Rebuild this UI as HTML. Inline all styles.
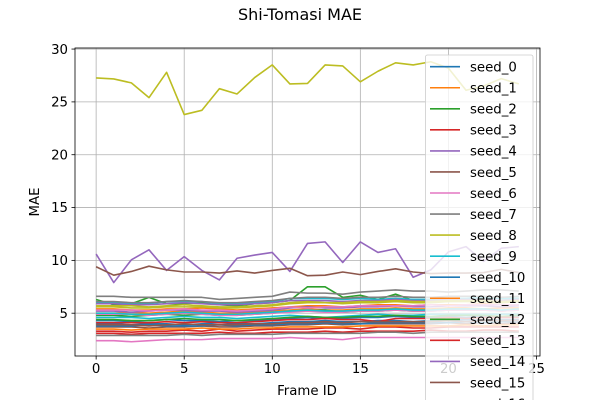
<!DOCTYPE html>
<html><head><meta charset="utf-8">
<style>
html,body{margin:0;padding:0;background:#fff;}
svg{display:block;font-family:"DejaVu Sans","Liberation Sans",sans-serif;}
</style></head>
<body>
<svg id="chart" width="600" height="400" viewBox="0 0 600 400">
<text x="300" y="20" text-anchor="middle" font-size="16">Shi-Tomasi MAE</text>
<text x="307" y="395" text-anchor="middle" font-size="13.3">Frame ID</text>
<text transform="translate(39,202) rotate(-90)" text-anchor="middle" font-size="13.3">MAE</text>
<g id="grid"></g><g id="series"></g><g id="axes"></g><g id="legend"></g>
</svg>
<script>
const frames = [0,1,2,3,4,5,6,7,8,9,10,11,12,13,14,15,16,17,18,19,20,21,22,23,24];
const xTicks = [0,5,10,15,20,25];
const yTicks = [5,10,15,20,25,30];
const seedNames = [];
const s0 = [4.3,4.3,4.2,4.3,4.4,4.3,4.3,4.2,4.3,4.3,4.4,4.5,4.6,4.5,4.5,4.6,4.6,4.7,4.6,4.6,4.7,4.6,4.7,4.7,4.7];
const s1 = [5.4,5.4,5.3,5.3,5.4,5.4,5.5,5.4,5.3,5.4,5.5,5.6,5.7,5.7,5.6,5.7,5.8,5.8,5.7,5.8,5.8,5.8,5.9,5.8,5.8];
const s2 = [6.3,5.8,5.9,6.5,5.9,5.9,6.0,5.8,5.7,5.9,6.0,6.2,7.5,7.5,6.5,6.7,6.3,6.8,6.2,6.3,6.4,6.3,6.5,6.4,6.4];
const s3 = [3.1,3.1,3.0,3.1,3.1,3.1,3.1,3.2,3.1,3.1,3.2,3.2,3.2,3.3,3.2,3.3,3.3,3.3,3.3,3.4,3.3,3.3,3.4,3.4,3.3];
const s4 = [10.6,7.9,10.05,11.0,9.05,10.35,9.05,8.15,10.2,10.5,10.75,8.95,11.6,11.75,9.8,11.75,10.75,11.1,8.4,9.1,10.8,11.3,9.9,11.15,11.3];
const s5 = [9.4,8.6,8.95,9.45,9.1,8.9,8.9,8.8,9.0,8.8,9.05,9.25,8.55,8.6,8.9,8.65,8.95,9.2,8.9,8.75,8.8,8.8,8.85,9.15,8.85];
const s6 = [2.4,2.4,2.3,2.4,2.5,2.5,2.5,2.6,2.6,2.6,2.6,2.7,2.6,2.6,2.5,2.7,2.7,2.7,2.7,2.7,2.7,2.7,2.7,2.7,2.7];
const s7 = [6.6,6.6,6.5,6.5,6.5,6.5,6.5,6.3,6.4,6.5,6.6,7.0,6.9,6.9,6.8,7.0,7.1,7.2,7.1,7.1,7.0,7.1,7.2,7.2,7.1];
const s8 = [27.27,27.17,26.8,25.4,27.8,23.8,24.2,26.25,25.75,27.3,28.5,26.7,26.75,28.5,28.4,26.9,27.9,28.7,28.5,28.8,28.2,26.1,26.5,27.2,26.7];
const s9 = [6.0,6.0,5.9,5.9,6.1,6.1,6.1,5.9,5.9,6.0,6.1,6.4,6.4,6.4,6.3,6.4,6.3,6.4,6.3,6.3,6.4,6.4,6.5,6.4,6.4];
const s10 = [4.0,4.0,3.9,4.0,4.0,3.9,4.0,4.1,4.0,4.0,4.1,4.2,4.2,4.3,4.2,4.2,4.3,4.3,4.2,4.3,4.3,4.4,4.3,4.4,4.4];
const s11 = [5.0,5.0,5.1,5.0,5.1,5.2,5.1,5.0,5.0,5.1,5.2,5.3,5.4,5.3,5.3,5.4,5.4,5.5,5.4,5.4,5.5,5.5,5.4,5.5,5.5];
const s12 = [4.8,4.8,4.7,4.8,4.9,4.8,4.9,4.8,4.8,4.9,5.0,5.2,5.2,5.3,5.1,5.2,5.2,5.3,5.2,5.2,5.3,5.3,5.3,5.2,5.3];
const s13 = [3.3,3.3,3.2,3.3,3.3,3.4,3.3,3.5,3.3,3.4,3.5,3.5,3.5,3.6,3.6,3.5,3.7,3.7,3.6,3.6,3.7,3.7,3.7,3.7,3.7];
const s14 = [5.2,5.2,5.1,5.2,5.3,5.3,5.2,5.2,5.1,5.2,5.3,5.5,5.6,5.5,5.5,5.6,5.6,5.7,5.6,5.6,5.7,5.7,5.7,5.6,5.7];
const s15 = [3.7,3.7,3.7,3.6,3.7,3.7,3.8,3.7,3.7,3.8,3.8,3.9,3.9,4.0,3.9,4.0,4.0,4.0,4.0,4.0,4.1,4.0,4.1,4.0,4.1];
const s16 = [5.3,5.3,5.3,5.2,5.3,5.4,5.3,5.3,5.2,5.3,5.4,5.6,5.5,5.6,5.6,5.7,5.7,5.7,5.7,5.8,5.7,5.8,5.8,5.8,5.8];
const s17 = [2.9,2.9,2.9,2.9,2.9,3.0,2.9,3.0,3.0,3.0,3.0,3.1,3.1,3.1,3.1,3.1,3.2,3.2,3.1,3.2,3.2,3.2,3.2,3.2,3.2];
const s18 = [5.6,5.6,5.5,5.5,5.6,5.6,5.6,5.5,5.5,5.6,5.7,5.9,6.0,6.0,5.9,6.0,6.0,6.1,6.0,6.0,6.1,6.1,6.1,6.0,6.1];
const s19 = [4.6,4.6,4.6,4.5,4.6,4.7,4.6,4.6,4.5,4.6,4.7,4.8,4.7,4.6,4.7,4.8,4.9,4.8,4.8,4.9,4.9,4.9,4.9,4.9,4.9];
const s20 = [3.8,3.8,3.8,3.9,3.8,3.8,3.8,3.9,3.8,3.9,3.9,4.0,4.0,4.1,4.0,4.0,4.1,4.1,4.1,4.1,4.1,4.2,4.1,4.2,4.2];
const s21 = [3.5,3.5,3.4,3.5,3.5,3.5,3.6,3.5,3.5,3.6,3.6,3.7,3.7,3.7,3.7,3.8,3.8,3.8,3.8,3.8,3.8,3.9,3.8,3.9,3.9];
const s22 = [4.4,4.4,4.3,4.3,4.4,4.5,4.4,4.4,4.3,4.4,4.5,4.6,4.7,4.6,4.6,4.7,4.7,4.8,4.7,4.7,4.8,4.8,4.8,4.7,4.8];
const s23 = [4.1,4.1,4.1,4.1,4.2,4.1,4.2,4.1,4.1,4.2,4.3,4.4,4.4,4.5,4.4,4.4,4.2,4.5,4.5,4.5,4.6,4.5,4.6,4.6,4.6];
const s24 = [5.9,5.9,5.8,5.8,5.9,6.0,5.9,5.8,5.8,5.9,6.0,6.2,6.2,6.2,6.1,6.2,6.2,6.3,6.2,6.2,6.3,6.3,6.3,6.2,6.3];
const s25 = [3.9,3.9,3.9,3.8,3.9,4.0,3.9,3.9,3.9,4.0,4.0,4.1,4.1,4.2,4.1,4.2,4.2,4.2,4.2,4.2,4.3,4.2,4.3,4.3,4.3];
const s26 = [4.9,4.9,4.9,4.8,4.9,5.0,4.9,4.8,4.8,4.9,5.0,5.1,5.2,5.1,5.1,5.2,5.2,5.3,5.2,5.2,5.3,5.3,5.3,5.2,5.3];
const s27 = [6.1,6.1,6.0,6.0,6.1,6.2,6.1,6.0,6.0,6.1,6.2,6.4,6.5,6.5,6.4,6.5,6.5,6.6,6.5,6.5,6.6,6.6,6.6,6.5,6.6];
const s28 = [5.7,5.7,5.7,5.6,5.7,5.8,5.7,5.6,5.6,5.7,5.8,6.0,6.1,6.0,6.0,6.1,6.1,6.2,6.1,6.1,6.2,6.2,6.2,6.1,6.2];
const s29 = [5.0,5.0,4.9,4.9,5.0,5.1,5.0,4.9,4.9,5.0,5.1,5.2,5.3,5.2,5.2,5.3,5.3,5.4,5.3,5.3,5.4,5.4,5.4,5.3,5.4];
const seriesValues = [s0,s1,s2,s3,s4,s5,s6,s7,s8,s9,s10,s11,s12,s13,s14,s15,s16,s17,s18,s19,s20,s21,s22,s23,s24,s25,s26,s27,s28,s29];
for (let i = 0; i < seriesValues.length; i++) seedNames.push('seed_' + i);

const palette = ['#1f77b4','#ff7f0e','#2ca02c','#d62728','#9467bd','#8c564b','#e377c2','#7f7f7f','#bcbd22','#17becf'];
const L = 75, R = 540, T = 48, B = 356;
const xMin = -1.2, xMax = 25.2, yMin = 0.95, yMax = 30.1;
function xs(v){ return L + (v - xMin) / (xMax - xMin) * (R - L); }
function ys(v){ return B - (v - yMin) / (yMax - yMin) * (B - T); }
const NS = 'http://www.w3.org/2000/svg';
function mk(tag, attrs, parent){ const e = document.createElementNS(NS, tag); for (const k in attrs) e.setAttribute(k, attrs[k]); parent.appendChild(e); return e; }

const grid = document.getElementById('grid');
const axes = document.getElementById('axes');
const series = document.getElementById('series');
const legend = document.getElementById('legend');

xTicks.forEach(t => {
  const x = xs(t);
  const g = mk('line', {x1:x, x2:x, y1:T, y2:B, stroke:'#b0b0b0', 'stroke-width':0.8}, grid);
  
  
  const tk = mk('line', {x1:x, x2:x, y1:B, y2:B+3.5, stroke:'#000', 'stroke-width':0.8}, axes);
  
  
  const lb = mk('text', {x:x, y:B+17, 'text-anchor':'middle', 'font-size':13.3}, axes);
  lb.textContent = t;
  
  
});
yTicks.forEach(t => {
  const y = ys(t);
  const g = mk('line', {x1:L, x2:R, y1:y, y2:y, stroke:'#b0b0b0', 'stroke-width':0.8}, grid);
  
  
  const tk = mk('line', {x1:L-3.5, x2:L, y1:y, y2:y, stroke:'#000', 'stroke-width':0.8}, axes);
  
  
  const lb = mk('text', {x:L-7, y:y+4.7, 'text-anchor':'end', 'font-size':13.3}, axes);
  lb.textContent = t;
  
  
});
const frame = mk('rect', {x:L, y:T, width:R-L, height:B-T, fill:'none', stroke:'#000', 'stroke-width':0.8}, axes);



seriesValues.forEach((vals, i) => {
  const pts = vals.map((v, j) => xs(frames[j]).toFixed(2) + ',' + ys(v).toFixed(2)).join(' ');
  const pl = mk('polyline', {points:pts, fill:'none', stroke:palette[i % 10], 'stroke-width':1.6, 'stroke-linejoin':'round'}, series);
  
  
});

const box = mk('rect', {x:425.5, y:55, width:107.5, height:360, rx:2, fill:'#fff', 'fill-opacity':0.8, stroke:'#cccccc', 'stroke-width':0.8}, legend);


seedNames.forEach((n, i) => {
  const y = 66.7 + i * 21.05;
  if (y > 410) return;
  const ln = mk('line', {x1:430, x2:460, y1:y, y2:y, stroke:palette[i % 10], 'stroke-width':1.6}, legend);
  
  
  const tx = mk('text', {x:470, y:y+4.8, 'font-size':13.3}, legend);
  tx.textContent = n;
  
  
});
</script>
</body></html>
